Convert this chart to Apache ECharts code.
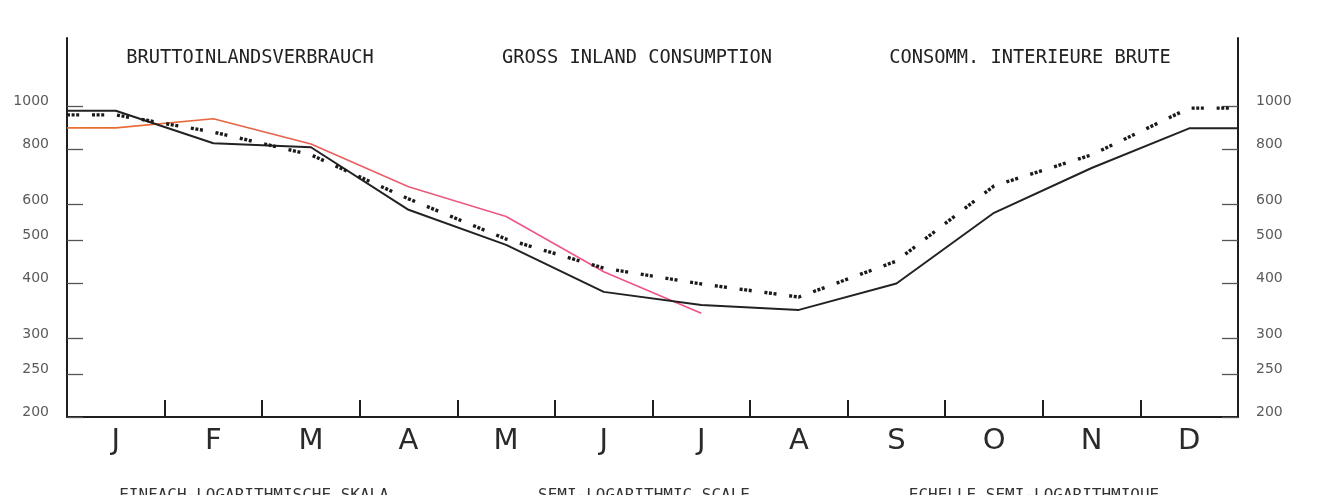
<!DOCTYPE html>
<html>
<head>
<meta charset="utf-8">
<script src="https://cdn.jsdelivr.net/npm/echarts@6/dist/echarts.min.js"></script>
<style>
html,body{margin:0;padding:0;background:#ffffff;}
#chart{width:1319px;height:495px;}
</style>
</head>
<body>
<div id="chart"></div>
<script>
// ---- data ----
var months = ['J','F','M','A','M','J','J','A','S','O','N','D'];
var solidValues  = [975, 824, 807, 584, 487, 382, 357, 348, 399, 575, 725, 890];
var dottedValues = [954, 873, 776, 618, 502, 432, 398, 372, 448, 661, 776, 988];
var redValues    = [892, 935, 821, 658, 564, 424, 342];
var yTickValues  = [200, 250, 300, 400, 500, 600, 800, 1000];
var titleTexts   = ['BRUTTOINLANDSVERBRAUCH', 'GROSS INLAND CONSUMPTION', 'CONSOMM. INTERIEURE BRUTE'];
var footerTexts  = ['EINFACH-LOGARITHMISCHE SKALA', 'SEMI-LOGARITHMIC SCALE', 'ECHELLE SEMI-LOGARITHMIQUE'];

// points at month centres, with the line carried flat to the frame at each end
function toPoints(vals) {
  var pts = [[0, vals[0]]];
  vals.forEach(function (v, i) { pts.push([i + 0.5, v]); });
  if (vals.length === 12) pts.push([12, vals[11]]);
  return pts;
}

var chart = echarts.init(document.getElementById('chart'), null, {renderer: 'canvas'});

var axisColor = '#1e1e1e';
var labelStyle = {color: '#5a5a5a', fontFamily: 'DejaVu Sans', fontSize: 14};

function yAxisDef(pos) {
  return {
    type: 'log', logBase: 10, position: pos, min: 200, max: 1420,
    axisLine: {show: true, lineStyle: {color: axisColor, width: 2}},
    axisTick: {show: true, inside: true, length: 16, lineStyle: {color: '#555', width: 1.3}, customValues: yTickValues},
    axisLabel: Object.assign({show: true, margin: 18, verticalAlign: 'bottom', lineHeight: 9, customValues: yTickValues,
      formatter: function (v) { return String(Math.round(v)); }}, labelStyle),
    splitLine: {show: false}, minorTick: {show: false}
  };
}

var titleX = [250, 637, 1030];
var footerX = [254, 644, 1034];
var graphics = [];
titleTexts.forEach(function (t, i) {
  graphics.push({type: 'text', x: titleX[i], y: 58, style: {text: t, align: 'center', verticalAlign: 'middle',
    font: '18.7px "DejaVu Sans Mono"', fill: '#222'}});
});
footerTexts.forEach(function (t, i) {
  graphics.push({type: 'text', x: footerX[i], y: 488, style: {text: t, align: 'center', verticalAlign: 'top',
    font: '16px "DejaVu Sans Mono"', fill: '#333'}});
});

chart.setOption({
  backgroundColor: '#ffffff',
  animation: false,
  grid: {left: 67, right: 81, top: 38, bottom: 78},
  xAxis: [
    {
      type: 'category', data: months, boundaryGap: true, position: 'bottom',
      axisLine: {show: true, lineStyle: {color: axisColor, width: 2}},
      axisTick: {show: true, inside: true, length: 17, lineStyle: {color: axisColor, width: 2}},
      axisLabel: {color: '#2a2a2a', fontFamily: 'DejaVu Sans', fontSize: 29, margin: 10},
      splitLine: {show: false}
    },
    {type: 'value', min: 0, max: 12, show: false}
  ],
  yAxis: [yAxisDef('left'), yAxisDef('right')],
  graphic: graphics,
  series: [
    {
      name: 'red', type: 'line', xAxisIndex: 1, yAxisIndex: 0, data: toPoints(redValues),
      symbol: 'none', z: 3,
      lineStyle: {width: 1.6, color: {type: 'linear', x: 0, y: 0, x2: 1, y2: 0, colorStops: [
        {offset: 0, color: '#e8702c'}, {offset: 0.35, color: '#e8604a'}, {offset: 0.6, color: '#ee5a80'}, {offset: 1, color: '#f0508a'}]}}
    },
    {
      name: 'solid', type: 'line', xAxisIndex: 1, yAxisIndex: 0, data: toPoints(solidValues),
      symbol: 'none', z: 4, lineStyle: {width: 2, color: '#222'}
    },
    {
      name: 'dotted', type: 'line', xAxisIndex: 1, yAxisIndex: 0, data: toPoints(dottedValues),
      symbol: 'none', z: 5, lineStyle: {width: 3.4, color: '#1a1a1a', type: [3, 1.6, 3, 1.6, 3, 12.8], cap: 'butt'}
    }
  ]
});
</script>
</body>
</html>
